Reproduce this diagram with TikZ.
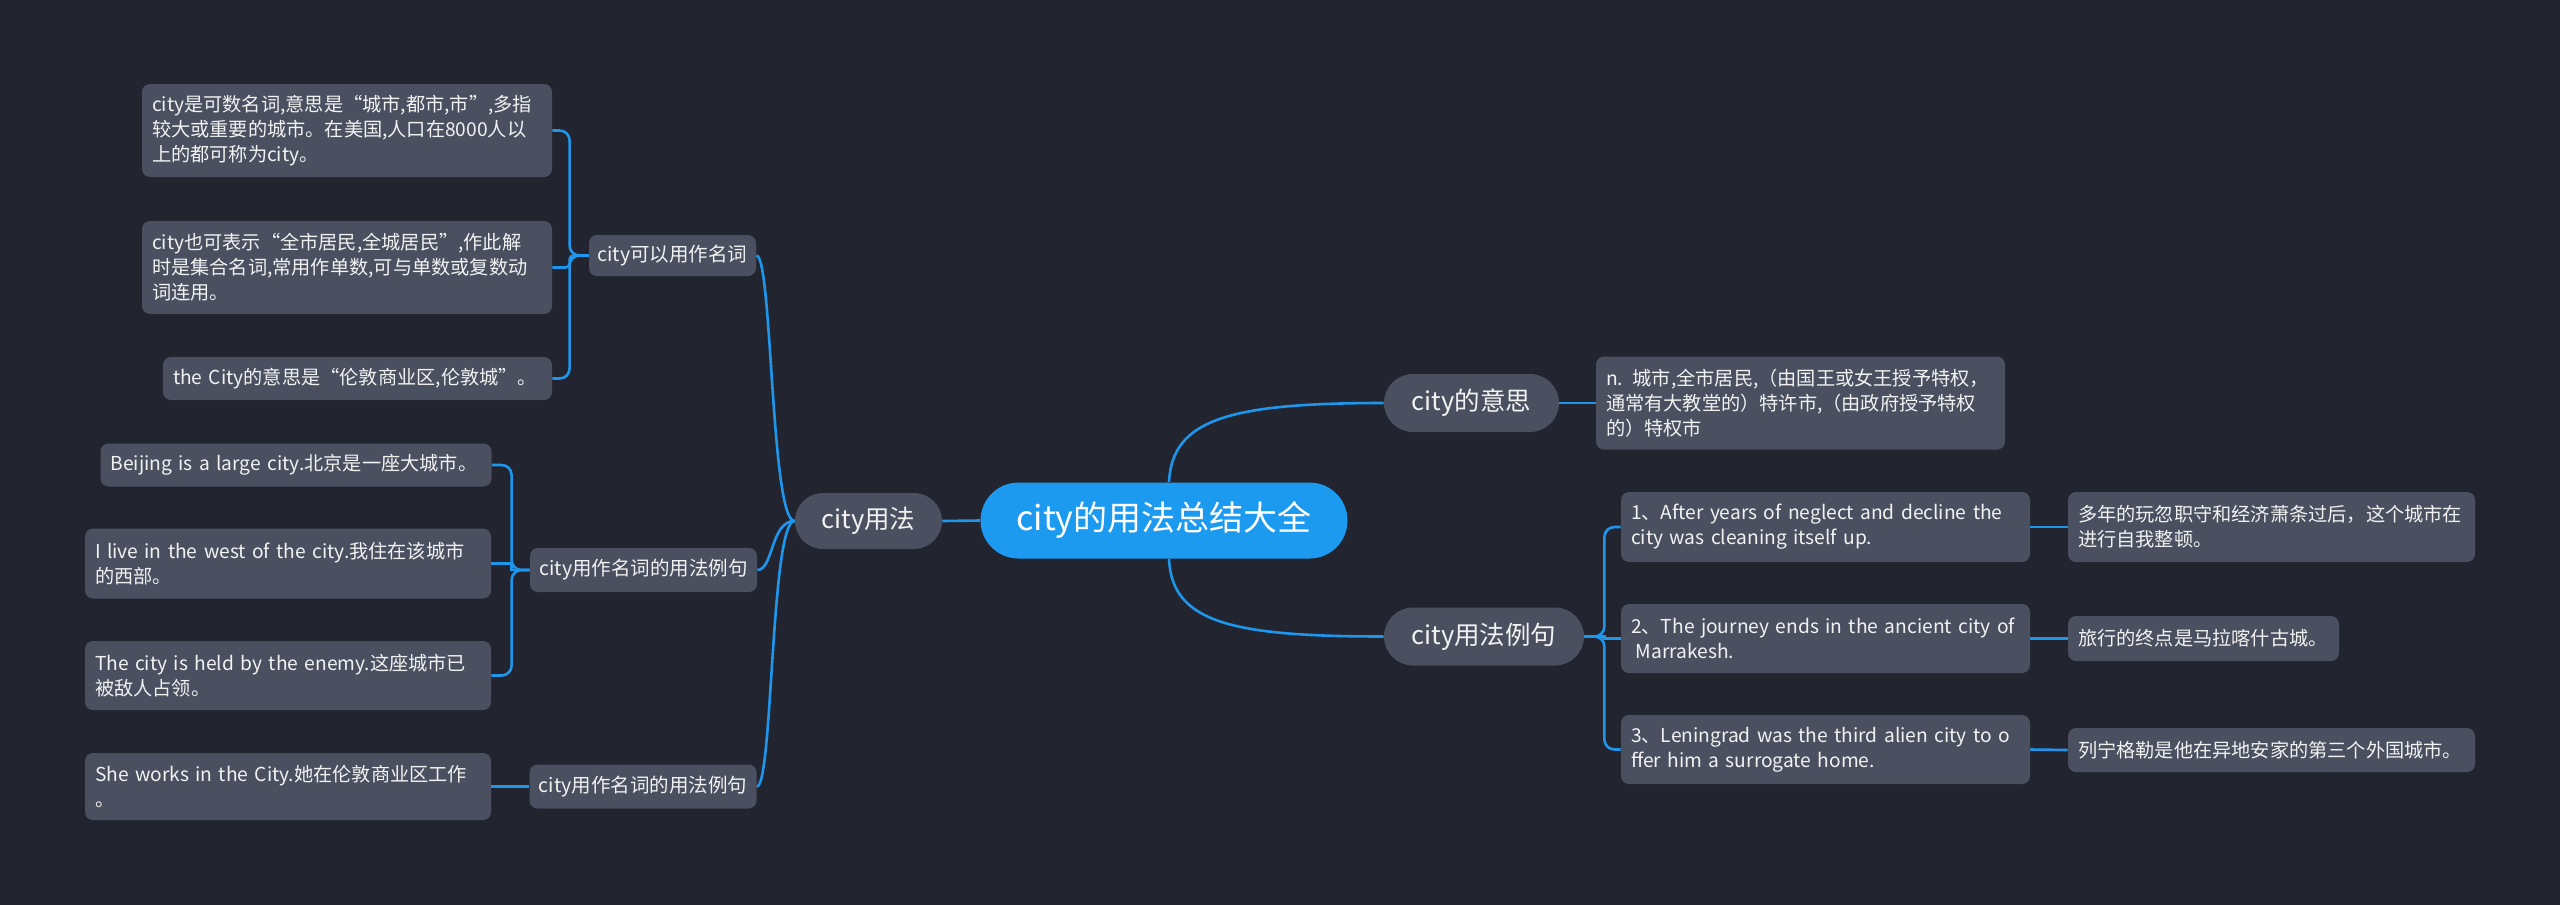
\documentclass[tikz,border=0pt]{standalone}
\usepackage{fontspec}
\setmainfont[WordSpace=0.8]{Noto Sans CJK SC}
\definecolor{bg}{RGB}{34,37,48}
\definecolor{ng}{RGB}{74,80,95}
\definecolor{ln}{RGB}{30,150,235}
\definecolor{rootc}{RGB}{28,154,240}
\definecolor{tx}{RGB}{242,242,242}
\begin{document}
\begin{tikzpicture}[x=0.5pt,y=-0.5pt,
  conn/.style={draw=ln, line width=1.3pt},
  leaf/.style={fill=ng, rounded corners=4pt, text=tx, font=\fontsize{9.6pt}{12.5pt}\selectfont, inner xsep=5pt, inner ysep=0pt, align=left},
  sub/.style={fill=ng, rounded corners=4pt, text=tx, font=\fontsize{9.75pt}{12.5pt}\selectfont, inner sep=0pt, align=center},
  mainnode/.style={fill=ng, text=tx, font=\fontsize{12.75pt}{15pt}\selectfont, inner sep=0pt, align=center},
  rootnode/.style={fill=rootc, text=white, font=\fontsize{17pt}{20pt}\selectfont, inner sep=0pt, align=center, rounded corners=19pt, minimum width=183.5pt, minimum height=38pt}
]
\fill[bg] (0,0) rectangle (2560,905);
\useasboundingbox (0,0) rectangle (2560,905);

% root and main branches
\node[rootnode] (root) at (1164,520.5) {city的用法总结大全};
\node[mainnode, rounded corners=14pt, minimum width=73.5pt, minimum height=28pt] (cu) at (868.5,521) {city用法};
\node[mainnode, rounded corners=14.5pt, minimum width=87.5pt, minimum height=29pt] (mean) at (1471.5,403) {city的意思};
\node[mainnode, rounded corners=14.5pt, minimum width=100pt, minimum height=29pt] (ex) at (1484,636.5) {city用法例句};

% left sub nodes
\node[sub, minimum width=83.5pt, minimum height=20.5pt] (p1) at (672.5,255.5) {city可以用作名词};
\node[sub, minimum width=113.5pt, minimum height=22pt] (p2) at (643.5,570) {city用作名词的用法例句};
\node[sub, minimum width=113.5pt, minimum height=22pt] (p3) at (643,786.5) {city用作名词的用法例句};

% left leaves
\node[leaf, text width=195pt, minimum height=46.5pt] (l1a) at (347,130.5) {city是可数名词,意思是“城市,都市,市”,多指\\较大或重要的城市。在美国,人口在8000人以\\上的都可称为city。};
\node[leaf, text width=195pt, minimum height=46.5pt] (l1b) at (347,267.5) {city也可表示“全市居民,全城居民”,作此解\\时是集合名词,常用作单数,可与单数或复数动\\词连用。};
\node[leaf, text width=184.5pt, minimum height=21.5pt] (l1c) at (357.5,378.5) {the City的意思是“伦敦商业区,伦敦城”。};
\node[leaf, text width=185.5pt, minimum height=21.5pt] (l2a) at (296,465) {Beijing is a large city.北京是一座大城市。};
\node[leaf, text width=193pt, minimum height=35pt] (l2b) at (288,563.5) {I live in the west of the city.我住在该城市\\的西部。};
\node[leaf, text width=193pt, minimum height=34.5pt] (l2c) at (288,675.5) {The city is held by the enemy.这座城市已\\被敌人占领。};
\node[leaf, text width=193pt, minimum height=33.5pt] (l3) at (288,786.5) {She works in the City.她在伦敦商业区工作\\。};

% right leaves
\node[leaf, text width=194.5pt, minimum height=46.5pt] (mb) at (1800.5,403) {n. 城市,全市居民,（由国王或女王授予特权，\\通常有大教堂的）特许市,（由政府授予特权\\的）特权市};
\node[leaf, text width=194.5pt, minimum height=35pt] (e1) at (1825.5,527) {1、After years of neglect and decline the\\city was cleaning itself up.};
\node[leaf, text width=194.5pt, minimum height=34.5pt] (e2) at (1825.5,638.5) {2、The journey ends in the ancient city of\\\hspace*{0.25em}Marrakesh.};
\node[leaf, text width=194.5pt, minimum height=34.5pt] (e3) at (1825.5,749.5) {3、Leningrad was the third alien city to o\\ffer him a surrogate home.};
\node[leaf, text width=193.5pt, minimum height=35pt] (t1) at (2271.5,527) {多年的玩忽职守和经济萧条过后，这个城市在\\进行自我整顿。};
\node[leaf, text width=125.5pt, minimum height=22.5pt] (t2) at (2203.5,638.5) {旅行的终点是马拉喀什古城。};
\node[leaf, text width=193.5pt, minimum height=22pt] (t3) at (2271.5,750) {列宁格勒是他在异地安家的第三个外国城市。};

% connectors: root
\draw[conn] (root.west) -- (cu.east);
\draw[conn] ([xshift=2.5pt]root.north) .. controls +(3,-63) and +(-154,0) .. (mean.west);
\draw[conn] ([xshift=2.5pt]root.south) .. controls +(3,63) and +(-154,0) .. (ex.west);

% cu to subs
\draw[conn] (cu.west) .. controls +(-24,0) and +(16,0) .. (p1.east);
\draw[conn] (cu.west) .. controls +(-24,0) and +(16,0) .. (p2.east);
\draw[conn] (cu.west) .. controls +(-24,0) and +(16,0) .. (p3.east);

% brackets left
\draw[conn, rounded corners=5pt] (p1.west) -- ++(-19,0) |- (l1a.east);
\draw[conn, rounded corners=2pt] (p1.west) -- ++(-19,0) |- (l1b.east);
\draw[conn, rounded corners=5pt] (p1.west) -- ++(-19,0) |- (l1c.east);
\draw[conn, rounded corners=5pt] (p2.west) -- ++(-18,0) |- (l2a.east);
\draw[conn] (p2.west) -- ++(-18,0) |- (l2b.east);
\draw[conn, rounded corners=5pt] (p2.west) -- ++(-18,0) |- (l2c.east);
\draw[conn] (p3.west) -- (l3.east);

% right
\draw[conn] (mean.east) -- (mb.west);
\draw[conn, rounded corners=5pt] (ex.east) -- ++(20,0) |- (e1.west);
\draw[conn] (ex.east) -- ++(20,0) |- (e2.west);
\draw[conn, rounded corners=5pt] (ex.east) -- ++(20,0) |- (e3.west);
\draw[conn] (e1.east) -- (t1.west);
\draw[conn] (e2.east) -- (t2.west);
\draw[conn] (e3.east) -- (t3.west);
\end{tikzpicture}
\end{document}
